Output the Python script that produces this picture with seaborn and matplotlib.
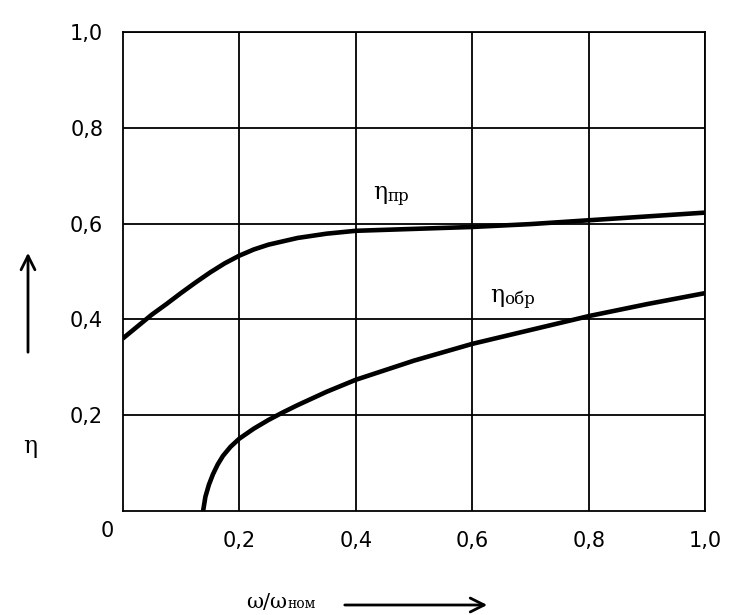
import numpy as np
import pandas as pd
import matplotlib
matplotlib.use("Agg")
import matplotlib.pyplot as plt
import seaborn as sns

# curves
x_pr = [0.0, 0.025, 0.05, 0.075, 0.1, 0.125, 0.15, 0.175, 0.2, 0.225, 0.25, 0.3, 0.35, 0.4,
        0.5, 0.6, 0.7, 0.8, 0.9, 1.0]
eta_pr = [0.36, 0.385, 0.41, 0.432, 0.455, 0.477, 0.498, 0.517, 0.533, 0.546, 0.556, 0.57, 0.579, 0.585,
          0.589, 0.593, 0.599, 0.607, 0.615, 0.623]

x_obr = [0.138, 0.142, 0.148, 0.155, 0.163, 0.172, 0.185, 0.2, 0.225, 0.25, 0.275, 0.3, 0.35, 0.4,
         0.5, 0.6, 0.7, 0.8, 0.9, 1.0]
eta_obr = [0.0, 0.03, 0.055, 0.077, 0.097, 0.115, 0.134, 0.151, 0.172, 0.19, 0.206, 0.221, 0.249, 0.274,
           0.314, 0.349, 0.378, 0.407, 0.432, 0.455]

ticks = [0.2, 0.4, 0.6, 0.8, 1.0]
tick_labels = ["0,2", "0,4", "0,6", "0,8", "1,0"]

sns.set_theme(style="white")
plt.rcParams['font.family'] = ['DejaVu Sans']
plt.rcParams['text.color'] = 'black'

fig = plt.figure(figsize=(7.48, 6.15), dpi=100)
ax = fig.add_axes([0.164, 0.169, 0.779, 0.779])

df_pr = pd.DataFrame({"x": x_pr, "eta": eta_pr})
df_obr = pd.DataFrame({"x": x_obr, "eta": eta_obr})
sns.lineplot(data=df_pr, x="x", y="eta", color="black", linewidth=3.3, ax=ax)
sns.lineplot(data=df_obr, x="x", y="eta", color="black", linewidth=3.3, ax=ax)
for ln in ax.lines:
    ln.set_solid_joinstyle("round")
    ln.set_solid_capstyle("butt")

ax.set_xlim(0, 1.0)
ax.set_ylim(0, 1.0)
ax.set_xticks(ticks)
ax.set_xticklabels(tick_labels, fontsize=15)
ax.set_yticks(ticks)
ax.set_yticklabels(tick_labels, fontsize=15)
ax.tick_params(length=0, pad=14, labelcolor="black")
ax.grid(True, color="black", linewidth=1.3)
for s in ax.spines.values():
    s.set_color("black")
    s.set_linewidth(1.3)
ax.set_xlabel("")
ax.set_ylabel("")

# corner zero
ax.text(-0.015, -0.02, "0", transform=ax.transAxes, ha="right", va="top", fontsize=15)

# curve labels
ax.text(0.43, 0.665, "η", fontsize=17, ha="left", va="center", family="DejaVu Serif")
ax.text(0.455, 0.657, "пр", fontsize=12, ha="left", va="center", family="DejaVu Serif")
ax.text(0.63, 0.45, "η", fontsize=17, ha="left", va="center", family="DejaVu Serif")
ax.text(0.655, 0.442, "обр", fontsize=12, ha="left", va="center", family="DejaVu Serif")

# y axis label with arrow
fig.text(30 / 748, 1 - 447 / 615, "η", fontsize=17, ha="center", va="center", family="DejaVu Serif")
fig.patches.append(matplotlib.patches.FancyArrowPatch(
    (28 / 748, 1 - 355 / 615), (28 / 748, 1 - 250 / 615), transform=fig.transFigure,
    arrowstyle="->", mutation_scale=25, linewidth=2, color="black"))

# x axis label with arrow
fig.text(287 / 748, 1 - 602 / 615, "ω/ω", fontsize=15, ha="right", va="center", family="DejaVu Serif")
fig.text(288 / 748, 1 - 604 / 615, "ном", fontsize=10, ha="left", va="center", family="DejaVu Serif")
fig.patches.append(matplotlib.patches.FancyArrowPatch(
    (342 / 748, 1 - 605 / 615), (490 / 748, 1 - 605 / 615), transform=fig.transFigure,
    arrowstyle="->", mutation_scale=25, linewidth=2, color="black"))

fig.savefig("out.png", dpi=100, facecolor="white")
